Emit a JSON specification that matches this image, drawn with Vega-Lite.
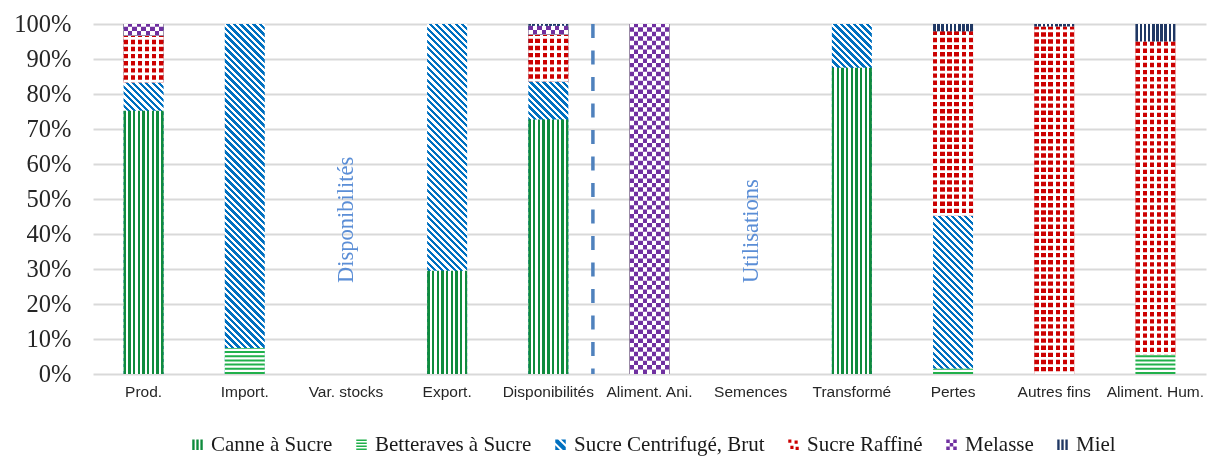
{
  "$schema": "https://vega.github.io/schema/vega-lite/v6.json",
  "width": 1113,
  "height": 350,
  "autosize": {"type": "none"},
  "padding": {"left": 93, "top": 24, "right": 1, "bottom": 82},
  "background": "white",
  "config": {
    "view": {"stroke": null},
    "axis": {"ticks": false, "domain": false, "title": null},
    "axisX": {"labelAngle": 0, "labelFont": "Liberation Sans", "labelFontSize": 15.5, "labelColor": "#262626", "labelPadding": 10, "grid": false},
    "axisY": {"format": ".0%", "tickCount": 10, "labelFont": "Liberation Serif", "labelFontSize": 24.5, "labelColor": "#262626", "labelPadding": 22, "grid": true, "gridColor": "#D9D9D9", "gridWidth": 2}
  },
  "datasets": {
    "rows": [
      {"cat": "Prod.", "series": "Canne à Sucre", "v": 75.2},
      {"cat": "Prod.", "series": "Sucre Centrifugé, Brut", "v": 8.1},
      {"cat": "Prod.", "series": "Sucre Raffiné", "v": 13.4},
      {"cat": "Prod.", "series": "Melasse", "v": 3.3},
      {"cat": "Import.", "series": "Betteraves à Sucre", "v": 7.4},
      {"cat": "Import.", "series": "Sucre Centrifugé, Brut", "v": 92.6},
      {"cat": "Export.", "series": "Canne à Sucre", "v": 29.5},
      {"cat": "Export.", "series": "Sucre Centrifugé, Brut", "v": 70.5},
      {"cat": "Disponibilités", "series": "Canne à Sucre", "v": 72.7},
      {"cat": "Disponibilités", "series": "Sucre Centrifugé, Brut", "v": 10.9},
      {"cat": "Disponibilités", "series": "Sucre Raffiné", "v": 13.4},
      {"cat": "Disponibilités", "series": "Melasse", "v": 2.5},
      {"cat": "Disponibilités", "series": "Miel", "v": 0.5},
      {"cat": "Aliment. Ani.", "series": "Melasse", "v": 100},
      {"cat": "Transformé", "series": "Canne à Sucre", "v": 87.5},
      {"cat": "Transformé", "series": "Sucre Centrifugé, Brut", "v": 12.5},
      {"cat": "Pertes", "series": "Betteraves à Sucre", "v": 1.5},
      {"cat": "Pertes", "series": "Sucre Centrifugé, Brut", "v": 43.7},
      {"cat": "Pertes", "series": "Sucre Raffiné", "v": 52.7},
      {"cat": "Pertes", "series": "Miel", "v": 2.1},
      {"cat": "Autres fins", "series": "Sucre Raffiné", "v": 99.3},
      {"cat": "Autres fins", "series": "Miel", "v": 0.7},
      {"cat": "Aliment. Hum.", "series": "Betteraves à Sucre", "v": 5.5},
      {"cat": "Aliment. Hum.", "series": "Sucre Raffiné", "v": 89.5},
      {"cat": "Aliment. Hum.", "series": "Miel", "v": 5}
    ],
    "series": [
      {"series": "Canne à Sucre", "rank": 1},
      {"series": "Betteraves à Sucre", "rank": 2},
      {"series": "Sucre Centrifugé, Brut", "rank": 3},
      {"series": "Sucre Raffiné", "rank": 4},
      {"series": "Melasse", "rank": 5},
      {"series": "Miel", "rank": 6}
    ]
  },
  "layer": [
    {
      "data": {"name": "rows"},
      "transform": [
        {"lookup": "series", "from": {"data": {"name": "series"}, "key": "series", "fields": ["rank"]}},
        {"stack": "v", "groupby": ["cat"], "sort": [{"field": "rank", "order": "ascending"}], "offset": "normalize", "as": ["y0", "y1"]}
      ],
      "encoding": {
        "x": {
          "field": "cat", "type": "nominal", "title": null,
          "scale": {"type": "band", "domain": ["Prod.", "Import.", "Var. stocks", "Export.", "Disponibilités", "Aliment. Ani.", "Semences", "Transformé", "Pertes", "Autres fins", "Aliment. Hum."], "paddingInner": 0, "paddingOuter": 0}
        },
        "y": {"field": "y0", "type": "quantitative", "title": null, "scale": {"domain": [0, 1], "nice": false}},
        "y2": {"field": "y1"}
      },
      "layer": [
        {
          "transform": [{"filter": "datum.series === 'Sucre Centrifugé, Brut'"}],
          "mark": {"type": "bar", "width": 40, "fill": {"gradient": "linear", "x1": 0, "y1": 1, "x2": 0.1257, "y2": -0.0999, "stops": [
            {"offset": 0, "color": "#0070C0"}, {"offset": 0.0083, "color": "#0070C0"}, {"offset": 0.0083, "color": "#FFFFFF"}, {"offset": 0.0167, "color": "#FFFFFF"},
            {"offset": 0.0167, "color": "#0070C0"}, {"offset": 0.025, "color": "#0070C0"}, {"offset": 0.025, "color": "#FFFFFF"}, {"offset": 0.0333, "color": "#FFFFFF"},
            {"offset": 0.0333, "color": "#0070C0"}, {"offset": 0.0417, "color": "#0070C0"}, {"offset": 0.0417, "color": "#FFFFFF"}, {"offset": 0.05, "color": "#FFFFFF"},
            {"offset": 0.05, "color": "#0070C0"}, {"offset": 0.0583, "color": "#0070C0"}, {"offset": 0.0583, "color": "#FFFFFF"}, {"offset": 0.0667, "color": "#FFFFFF"},
            {"offset": 0.0667, "color": "#0070C0"}, {"offset": 0.075, "color": "#0070C0"}, {"offset": 0.075, "color": "#FFFFFF"}, {"offset": 0.0833, "color": "#FFFFFF"},
            {"offset": 0.0833, "color": "#0070C0"}, {"offset": 0.0917, "color": "#0070C0"}, {"offset": 0.0917, "color": "#FFFFFF"}, {"offset": 0.1, "color": "#FFFFFF"},
            {"offset": 0.1, "color": "#0070C0"}, {"offset": 0.1083, "color": "#0070C0"}, {"offset": 0.1083, "color": "#FFFFFF"}, {"offset": 0.1167, "color": "#FFFFFF"},
            {"offset": 0.1167, "color": "#0070C0"}, {"offset": 0.125, "color": "#0070C0"}, {"offset": 0.125, "color": "#FFFFFF"}, {"offset": 0.1333, "color": "#FFFFFF"},
            {"offset": 0.1333, "color": "#0070C0"}, {"offset": 0.1417, "color": "#0070C0"}, {"offset": 0.1417, "color": "#FFFFFF"}, {"offset": 0.15, "color": "#FFFFFF"},
            {"offset": 0.15, "color": "#0070C0"}, {"offset": 0.1583, "color": "#0070C0"}, {"offset": 0.1583, "color": "#FFFFFF"}, {"offset": 0.1667, "color": "#FFFFFF"},
            {"offset": 0.1667, "color": "#0070C0"}, {"offset": 0.175, "color": "#0070C0"}, {"offset": 0.175, "color": "#FFFFFF"}, {"offset": 0.1833, "color": "#FFFFFF"},
            {"offset": 0.1833, "color": "#0070C0"}, {"offset": 0.1917, "color": "#0070C0"}, {"offset": 0.1917, "color": "#FFFFFF"}, {"offset": 0.2, "color": "#FFFFFF"},
            {"offset": 0.2, "color": "#0070C0"}, {"offset": 0.2083, "color": "#0070C0"}, {"offset": 0.2083, "color": "#FFFFFF"}, {"offset": 0.2167, "color": "#FFFFFF"},
            {"offset": 0.2167, "color": "#0070C0"}, {"offset": 0.225, "color": "#0070C0"}, {"offset": 0.225, "color": "#FFFFFF"}, {"offset": 0.2333, "color": "#FFFFFF"},
            {"offset": 0.2333, "color": "#0070C0"}, {"offset": 0.2417, "color": "#0070C0"}, {"offset": 0.2417, "color": "#FFFFFF"}, {"offset": 0.25, "color": "#FFFFFF"},
            {"offset": 0.25, "color": "#0070C0"}, {"offset": 0.2583, "color": "#0070C0"}, {"offset": 0.2583, "color": "#FFFFFF"}, {"offset": 0.2667, "color": "#FFFFFF"},
            {"offset": 0.2667, "color": "#0070C0"}, {"offset": 0.275, "color": "#0070C0"}, {"offset": 0.275, "color": "#FFFFFF"}, {"offset": 0.2833, "color": "#FFFFFF"},
            {"offset": 0.2833, "color": "#0070C0"}, {"offset": 0.2917, "color": "#0070C0"}, {"offset": 0.2917, "color": "#FFFFFF"}, {"offset": 0.3, "color": "#FFFFFF"},
            {"offset": 0.3, "color": "#0070C0"}, {"offset": 0.3083, "color": "#0070C0"}, {"offset": 0.3083, "color": "#FFFFFF"}, {"offset": 0.3167, "color": "#FFFFFF"},
            {"offset": 0.3167, "color": "#0070C0"}, {"offset": 0.325, "color": "#0070C0"}, {"offset": 0.325, "color": "#FFFFFF"}, {"offset": 0.3333, "color": "#FFFFFF"},
            {"offset": 0.3333, "color": "#0070C0"}, {"offset": 0.3417, "color": "#0070C0"}, {"offset": 0.3417, "color": "#FFFFFF"}, {"offset": 0.35, "color": "#FFFFFF"},
            {"offset": 0.35, "color": "#0070C0"}, {"offset": 0.3583, "color": "#0070C0"}, {"offset": 0.3583, "color": "#FFFFFF"}, {"offset": 0.3667, "color": "#FFFFFF"},
            {"offset": 0.3667, "color": "#0070C0"}, {"offset": 0.375, "color": "#0070C0"}, {"offset": 0.375, "color": "#FFFFFF"}, {"offset": 0.3833, "color": "#FFFFFF"},
            {"offset": 0.3833, "color": "#0070C0"}, {"offset": 0.3917, "color": "#0070C0"}, {"offset": 0.3917, "color": "#FFFFFF"}, {"offset": 0.4, "color": "#FFFFFF"},
            {"offset": 0.4, "color": "#0070C0"}, {"offset": 0.4083, "color": "#0070C0"}, {"offset": 0.4083, "color": "#FFFFFF"}, {"offset": 0.4167, "color": "#FFFFFF"},
            {"offset": 0.4167, "color": "#0070C0"}, {"offset": 0.425, "color": "#0070C0"}, {"offset": 0.425, "color": "#FFFFFF"}, {"offset": 0.4333, "color": "#FFFFFF"},
            {"offset": 0.4333, "color": "#0070C0"}, {"offset": 0.4417, "color": "#0070C0"}, {"offset": 0.4417, "color": "#FFFFFF"}, {"offset": 0.45, "color": "#FFFFFF"},
            {"offset": 0.45, "color": "#0070C0"}, {"offset": 0.4583, "color": "#0070C0"}, {"offset": 0.4583, "color": "#FFFFFF"}, {"offset": 0.4667, "color": "#FFFFFF"},
            {"offset": 0.4667, "color": "#0070C0"}, {"offset": 0.475, "color": "#0070C0"}, {"offset": 0.475, "color": "#FFFFFF"}, {"offset": 0.4833, "color": "#FFFFFF"},
            {"offset": 0.4833, "color": "#0070C0"}, {"offset": 0.4917, "color": "#0070C0"}, {"offset": 0.4917, "color": "#FFFFFF"}, {"offset": 0.5, "color": "#FFFFFF"},
            {"offset": 0.5, "color": "#0070C0"}, {"offset": 0.5083, "color": "#0070C0"}, {"offset": 0.5083, "color": "#FFFFFF"}, {"offset": 0.5167, "color": "#FFFFFF"},
            {"offset": 0.5167, "color": "#0070C0"}, {"offset": 0.525, "color": "#0070C0"}, {"offset": 0.525, "color": "#FFFFFF"}, {"offset": 0.5333, "color": "#FFFFFF"},
            {"offset": 0.5333, "color": "#0070C0"}, {"offset": 0.5417, "color": "#0070C0"}, {"offset": 0.5417, "color": "#FFFFFF"}, {"offset": 0.55, "color": "#FFFFFF"},
            {"offset": 0.55, "color": "#0070C0"}, {"offset": 0.5583, "color": "#0070C0"}, {"offset": 0.5583, "color": "#FFFFFF"}, {"offset": 0.5667, "color": "#FFFFFF"},
            {"offset": 0.5667, "color": "#0070C0"}, {"offset": 0.575, "color": "#0070C0"}, {"offset": 0.575, "color": "#FFFFFF"}, {"offset": 0.5833, "color": "#FFFFFF"},
            {"offset": 0.5833, "color": "#0070C0"}, {"offset": 0.5917, "color": "#0070C0"}, {"offset": 0.5917, "color": "#FFFFFF"}, {"offset": 0.6, "color": "#FFFFFF"},
            {"offset": 0.6, "color": "#0070C0"}, {"offset": 0.6083, "color": "#0070C0"}, {"offset": 0.6083, "color": "#FFFFFF"}, {"offset": 0.6167, "color": "#FFFFFF"},
            {"offset": 0.6167, "color": "#0070C0"}, {"offset": 0.625, "color": "#0070C0"}, {"offset": 0.625, "color": "#FFFFFF"}, {"offset": 0.6333, "color": "#FFFFFF"},
            {"offset": 0.6333, "color": "#0070C0"}, {"offset": 0.6417, "color": "#0070C0"}, {"offset": 0.6417, "color": "#FFFFFF"}, {"offset": 0.65, "color": "#FFFFFF"},
            {"offset": 0.65, "color": "#0070C0"}, {"offset": 0.6583, "color": "#0070C0"}, {"offset": 0.6583, "color": "#FFFFFF"}, {"offset": 0.6667, "color": "#FFFFFF"},
            {"offset": 0.6667, "color": "#0070C0"}, {"offset": 0.675, "color": "#0070C0"}, {"offset": 0.675, "color": "#FFFFFF"}, {"offset": 0.6833, "color": "#FFFFFF"},
            {"offset": 0.6833, "color": "#0070C0"}, {"offset": 0.6917, "color": "#0070C0"}, {"offset": 0.6917, "color": "#FFFFFF"}, {"offset": 0.7, "color": "#FFFFFF"},
            {"offset": 0.7, "color": "#0070C0"}, {"offset": 0.7083, "color": "#0070C0"}, {"offset": 0.7083, "color": "#FFFFFF"}, {"offset": 0.7167, "color": "#FFFFFF"},
            {"offset": 0.7167, "color": "#0070C0"}, {"offset": 0.725, "color": "#0070C0"}, {"offset": 0.725, "color": "#FFFFFF"}, {"offset": 0.7333, "color": "#FFFFFF"},
            {"offset": 0.7333, "color": "#0070C0"}, {"offset": 0.7417, "color": "#0070C0"}, {"offset": 0.7417, "color": "#FFFFFF"}, {"offset": 0.75, "color": "#FFFFFF"},
            {"offset": 0.75, "color": "#0070C0"}, {"offset": 0.7583, "color": "#0070C0"}, {"offset": 0.7583, "color": "#FFFFFF"}, {"offset": 0.7667, "color": "#FFFFFF"},
            {"offset": 0.7667, "color": "#0070C0"}, {"offset": 0.775, "color": "#0070C0"}, {"offset": 0.775, "color": "#FFFFFF"}, {"offset": 0.7833, "color": "#FFFFFF"},
            {"offset": 0.7833, "color": "#0070C0"}, {"offset": 0.7917, "color": "#0070C0"}, {"offset": 0.7917, "color": "#FFFFFF"}, {"offset": 0.8, "color": "#FFFFFF"},
            {"offset": 0.8, "color": "#0070C0"}, {"offset": 0.8083, "color": "#0070C0"}, {"offset": 0.8083, "color": "#FFFFFF"}, {"offset": 0.8167, "color": "#FFFFFF"},
            {"offset": 0.8167, "color": "#0070C0"}, {"offset": 0.825, "color": "#0070C0"}, {"offset": 0.825, "color": "#FFFFFF"}, {"offset": 0.8333, "color": "#FFFFFF"},
            {"offset": 0.8333, "color": "#0070C0"}, {"offset": 0.8417, "color": "#0070C0"}, {"offset": 0.8417, "color": "#FFFFFF"}, {"offset": 0.85, "color": "#FFFFFF"},
            {"offset": 0.85, "color": "#0070C0"}, {"offset": 0.8583, "color": "#0070C0"}, {"offset": 0.8583, "color": "#FFFFFF"}, {"offset": 0.8667, "color": "#FFFFFF"},
            {"offset": 0.8667, "color": "#0070C0"}, {"offset": 0.875, "color": "#0070C0"}, {"offset": 0.875, "color": "#FFFFFF"}, {"offset": 0.8833, "color": "#FFFFFF"},
            {"offset": 0.8833, "color": "#0070C0"}, {"offset": 0.8917, "color": "#0070C0"}, {"offset": 0.8917, "color": "#FFFFFF"}, {"offset": 0.9, "color": "#FFFFFF"},
            {"offset": 0.9, "color": "#0070C0"}, {"offset": 0.9083, "color": "#0070C0"}, {"offset": 0.9083, "color": "#FFFFFF"}, {"offset": 0.9167, "color": "#FFFFFF"},
            {"offset": 0.9167, "color": "#0070C0"}, {"offset": 0.925, "color": "#0070C0"}, {"offset": 0.925, "color": "#FFFFFF"}, {"offset": 0.9333, "color": "#FFFFFF"},
            {"offset": 0.9333, "color": "#0070C0"}, {"offset": 0.9417, "color": "#0070C0"}, {"offset": 0.9417, "color": "#FFFFFF"}, {"offset": 0.95, "color": "#FFFFFF"},
            {"offset": 0.95, "color": "#0070C0"}, {"offset": 0.9583, "color": "#0070C0"}, {"offset": 0.9583, "color": "#FFFFFF"}, {"offset": 0.9667, "color": "#FFFFFF"},
            {"offset": 0.9667, "color": "#0070C0"}, {"offset": 0.975, "color": "#0070C0"}, {"offset": 0.975, "color": "#FFFFFF"}, {"offset": 0.9833, "color": "#FFFFFF"},
            {"offset": 0.9833, "color": "#0070C0"}, {"offset": 0.9917, "color": "#0070C0"}, {"offset": 0.9917, "color": "#FFFFFF"}, {"offset": 1, "color": "#FFFFFF"}
          ]}},
          "encoding": {
            "y": {"datum": 0, "type": "quantitative", "title": null},
            "y2": {"datum": 1}
          }
        },
        {
          "transform": [{"filter": "datum.series === 'Canne à Sucre'"}],
          "mark": {"type": "bar", "width": 40, "fill": {"gradient": "linear", "x1": 0, "y1": 0, "x2": 1, "y2": 0, "stops": [
            {"offset": 0, "color": "#0F8B3D"}, {"offset": 0.06, "color": "#0F8B3D"}, {"offset": 0.06, "color": "#FFFFFF"}, {"offset": 0.1175, "color": "#FFFFFF"},
            {"offset": 0.1175, "color": "#0F8B3D"}, {"offset": 0.1775, "color": "#0F8B3D"}, {"offset": 0.1775, "color": "#FFFFFF"}, {"offset": 0.235, "color": "#FFFFFF"},
            {"offset": 0.235, "color": "#0F8B3D"}, {"offset": 0.295, "color": "#0F8B3D"}, {"offset": 0.295, "color": "#FFFFFF"}, {"offset": 0.3525, "color": "#FFFFFF"},
            {"offset": 0.3525, "color": "#0F8B3D"}, {"offset": 0.4125, "color": "#0F8B3D"}, {"offset": 0.4125, "color": "#FFFFFF"}, {"offset": 0.47, "color": "#FFFFFF"},
            {"offset": 0.47, "color": "#0F8B3D"}, {"offset": 0.53, "color": "#0F8B3D"}, {"offset": 0.53, "color": "#FFFFFF"}, {"offset": 0.5875, "color": "#FFFFFF"},
            {"offset": 0.5875, "color": "#0F8B3D"}, {"offset": 0.6475, "color": "#0F8B3D"}, {"offset": 0.6475, "color": "#FFFFFF"}, {"offset": 0.705, "color": "#FFFFFF"},
            {"offset": 0.705, "color": "#0F8B3D"}, {"offset": 0.765, "color": "#0F8B3D"}, {"offset": 0.765, "color": "#FFFFFF"}, {"offset": 0.8225, "color": "#FFFFFF"},
            {"offset": 0.8225, "color": "#0F8B3D"}, {"offset": 0.8825, "color": "#0F8B3D"}, {"offset": 0.8825, "color": "#FFFFFF"}, {"offset": 0.94, "color": "#FFFFFF"},
            {"offset": 0.94, "color": "#0F8B3D"}, {"offset": 1, "color": "#0F8B3D"}
          ]}}
        },
        {
          "transform": [{"filter": "datum.series === 'Betteraves à Sucre'"}],
          "mark": {"type": "bar", "width": 40, "fill": "#FFFFFF"}
        },
        {
          "transform": [{"filter": "datum.series === 'Betteraves à Sucre'"}],
          "mark": {"type": "rule", "strokeWidth": 40, "strokeDash": [2, 2.2], "color": "#21B04B"}
        },
        {
          "transform": [{"filter": "datum.series === 'Sucre Raffiné'"}],
          "mark": {"type": "bar", "width": 40, "fill": {"gradient": "linear", "x1": 0, "y1": 0, "x2": 1, "y2": 0, "stops": [
            {"offset": 0, "color": "#CC0000"}, {"offset": 0.11, "color": "#CC0000"}, {"offset": 0.11, "color": "#FFFFFF"}, {"offset": 0.178, "color": "#FFFFFF"},
            {"offset": 0.178, "color": "#CC0000"}, {"offset": 0.288, "color": "#CC0000"}, {"offset": 0.288, "color": "#FFFFFF"}, {"offset": 0.356, "color": "#FFFFFF"},
            {"offset": 0.356, "color": "#CC0000"}, {"offset": 0.466, "color": "#CC0000"}, {"offset": 0.466, "color": "#FFFFFF"}, {"offset": 0.534, "color": "#FFFFFF"},
            {"offset": 0.534, "color": "#CC0000"}, {"offset": 0.644, "color": "#CC0000"}, {"offset": 0.644, "color": "#FFFFFF"}, {"offset": 0.712, "color": "#FFFFFF"},
            {"offset": 0.712, "color": "#CC0000"}, {"offset": 0.822, "color": "#CC0000"}, {"offset": 0.822, "color": "#FFFFFF"}, {"offset": 0.89, "color": "#FFFFFF"},
            {"offset": 0.89, "color": "#CC0000"}, {"offset": 1, "color": "#CC0000"}
          ]}}
        },
        {
          "transform": [{"filter": "datum.series === 'Sucre Raffiné'"}],
          "mark": {"type": "rule", "strokeWidth": 40, "strokeDash": [2.72, 4.4], "color": "#FFFFFF"}
        },
        {
          "transform": [{"filter": "datum.series === 'Melasse'"}],
          "mark": {"type": "bar", "width": 40, "fill": {"gradient": "linear", "x1": 0, "y1": 0, "x2": 1, "y2": 0, "stops": [
            {"offset": 0, "color": "#000000"}, {"offset": 0.1111, "color": "#000000"}, {"offset": 0.1111, "color": "#FFFFFF"}, {"offset": 0.2222, "color": "#FFFFFF"},
            {"offset": 0.2222, "color": "#000000"}, {"offset": 0.3333, "color": "#000000"}, {"offset": 0.3333, "color": "#FFFFFF"}, {"offset": 0.4444, "color": "#FFFFFF"},
            {"offset": 0.4444, "color": "#000000"}, {"offset": 0.5556, "color": "#000000"}, {"offset": 0.5556, "color": "#FFFFFF"}, {"offset": 0.6667, "color": "#FFFFFF"},
            {"offset": 0.6667, "color": "#000000"}, {"offset": 0.7778, "color": "#000000"}, {"offset": 0.7778, "color": "#FFFFFF"}, {"offset": 0.8889, "color": "#FFFFFF"},
            {"offset": 0.8889, "color": "#000000"}, {"offset": 1, "color": "#000000"}
          ]}}
        },
        {
          "transform": [{"filter": "datum.series === 'Melasse'"}],
          "mark": {"type": "rule", "strokeWidth": 40, "strokeDash": [4.444, 4.444], "color": "#FFFFFF", "blend": "difference"}
        },
        {
          "transform": [{"filter": "datum.series === 'Melasse'"}],
          "mark": {"type": "bar", "width": 40, "fill": "#7030A0", "blend": "screen"}
        },
        {
          "transform": [{"filter": "datum.series === 'Miel'"}],
          "mark": {"type": "bar", "width": 40, "fill": {"gradient": "linear", "x1": 0, "y1": 0, "x2": 1, "y2": 0, "stops": [
            {"offset": 0, "color": "#203864"}, {"offset": 0.065, "color": "#203864"}, {"offset": 0.065, "color": "#FFFFFF"}, {"offset": 0.1039, "color": "#FFFFFF"},
            {"offset": 0.1039, "color": "#203864"}, {"offset": 0.1689, "color": "#203864"}, {"offset": 0.1689, "color": "#FFFFFF"}, {"offset": 0.2078, "color": "#FFFFFF"},
            {"offset": 0.2078, "color": "#203864"}, {"offset": 0.2728, "color": "#203864"}, {"offset": 0.2728, "color": "#FFFFFF"}, {"offset": 0.3117, "color": "#FFFFFF"},
            {"offset": 0.3117, "color": "#203864"}, {"offset": 0.3767, "color": "#203864"}, {"offset": 0.3767, "color": "#FFFFFF"}, {"offset": 0.4156, "color": "#FFFFFF"},
            {"offset": 0.4156, "color": "#203864"}, {"offset": 0.4806, "color": "#203864"}, {"offset": 0.4806, "color": "#FFFFFF"}, {"offset": 0.5194, "color": "#FFFFFF"},
            {"offset": 0.5194, "color": "#203864"}, {"offset": 0.5844, "color": "#203864"}, {"offset": 0.5844, "color": "#FFFFFF"}, {"offset": 0.6233, "color": "#FFFFFF"},
            {"offset": 0.6233, "color": "#203864"}, {"offset": 0.6883, "color": "#203864"}, {"offset": 0.6883, "color": "#FFFFFF"}, {"offset": 0.7272, "color": "#FFFFFF"},
            {"offset": 0.7272, "color": "#203864"}, {"offset": 0.7922, "color": "#203864"}, {"offset": 0.7922, "color": "#FFFFFF"}, {"offset": 0.8311, "color": "#FFFFFF"},
            {"offset": 0.8311, "color": "#203864"}, {"offset": 0.8961, "color": "#203864"}, {"offset": 0.8961, "color": "#FFFFFF"}, {"offset": 0.935, "color": "#FFFFFF"},
            {"offset": 0.935, "color": "#203864"}, {"offset": 1, "color": "#203864"}
          ]}}
        },
        {
          "mark": {"type": "point", "filled": true, "opacity": 0},
          "encoding": {
            "y": {"field": "y1", "type": "quantitative", "title": null},
            "color": {
              "field": "series", "type": "nominal",
              "scale": {"domain": ["Canne à Sucre", "Betteraves à Sucre", "Sucre Centrifugé, Brut", "Sucre Raffiné", "Melasse", "Miel"], "range": ["#0F8B3D", "#21B04B", "#0070C0", "#CC0000", "#7030A0", "#203864"]},
              "legend": {"orient": "none", "legendX": 94, "legendY": 410, "direction": "horizontal", "columns": 6, "title": null, "labelFont": "Liberation Serif", "labelFontSize": 21, "labelColor": "#1A1A1A", "labelLimit": 400, "symbolSize": 110, "symbolOpacity": 1, "symbolStrokeWidth": 0, "labelOffset": 3, "columnPadding": 18, "padding": 0}
            },
            "shape": {
              "field": "series", "type": "nominal",
              "scale": {"domain": ["Canne à Sucre", "Betteraves à Sucre", "Sucre Centrifugé, Brut", "Sucre Raffiné", "Melasse", "Miel"], "range": [
                "M-1,-1H-0.55V1H-1Z M-0.225,-1H0.225V1H-0.225Z M0.55,-1H1V1H0.55Z",
                "M-1,-1H1V-0.7H-1Z M-1,-0.43H1V-0.13H-1Z M-1,0.13H1V0.43H-1Z M-1,0.7H1V1H-1Z",
                "M-1,-1H-0.45L1,0.45V1H0.45L-1,-0.45Z M0.1,-1H1V-0.1Z M-1,0.1L-0.1,1H-1Z",
                "M-1,-1H-0.4V-0.4H-1Z M0.2,-0.8H0.8V-0.2H0.2Z M-0.6,0.2H0V0.8H-0.6Z M0.4,0.4H1V1H0.4Z",
                "M-1,-1H-0.333V-0.333H-1Z M0.333,-1H1V-0.333H0.333Z M-0.333,-0.333H0.333V0.333H-0.333Z M-1,0.333H-0.333V1H-1Z M0.333,0.333H1V1H0.333Z",
                "M-1,-1H-0.55V1H-1Z M-0.225,-1H0.225V1H-0.225Z M0.55,-1H1V1H0.55Z"
              ]},
              "legend": {"orient": "none", "legendX": 94, "legendY": 410, "direction": "horizontal", "columns": 6, "title": null, "labelFont": "Liberation Serif", "labelFontSize": 21, "labelColor": "#1A1A1A", "labelLimit": 400, "symbolSize": 110, "symbolOpacity": 1, "symbolStrokeWidth": 0, "labelOffset": 3, "columnPadding": 18, "padding": 0}
            }
          }
        }
      ]
    },
    {
      "data": {"values": [
        {"cat": "Var. stocks", "label": "Disponibilités"},
        {"cat": "Semences", "label": "Utilisations"}
      ]},
      "mark": {"type": "text", "angle": 270, "align": "left", "baseline": "middle", "font": "Liberation Serif", "fontSize": 22.5, "color": "#5B8ED6"},
      "encoding": {
        "x": {"field": "cat", "type": "nominal", "title": null, "scale": {"type": "band"}},
        "y": {"datum": 0.26, "type": "quantitative", "title": null},
        "text": {"field": "label"}
      }
    },
    {
      "data": {"values": [{"cat": "Aliment. Ani."}]},
      "mark": {"type": "rule", "strokeWidth": 3.5, "strokeDash": [14, 12.5], "color": "#4F81BD", "xOffset": -6},
      "encoding": {
        "x": {"field": "cat", "type": "nominal", "title": null, "scale": {"type": "band"}, "bandPosition": 0},
        "y": {"datum": 1, "type": "quantitative", "title": null},
        "y2": {"datum": 0}
      }
    }
  ]
}
